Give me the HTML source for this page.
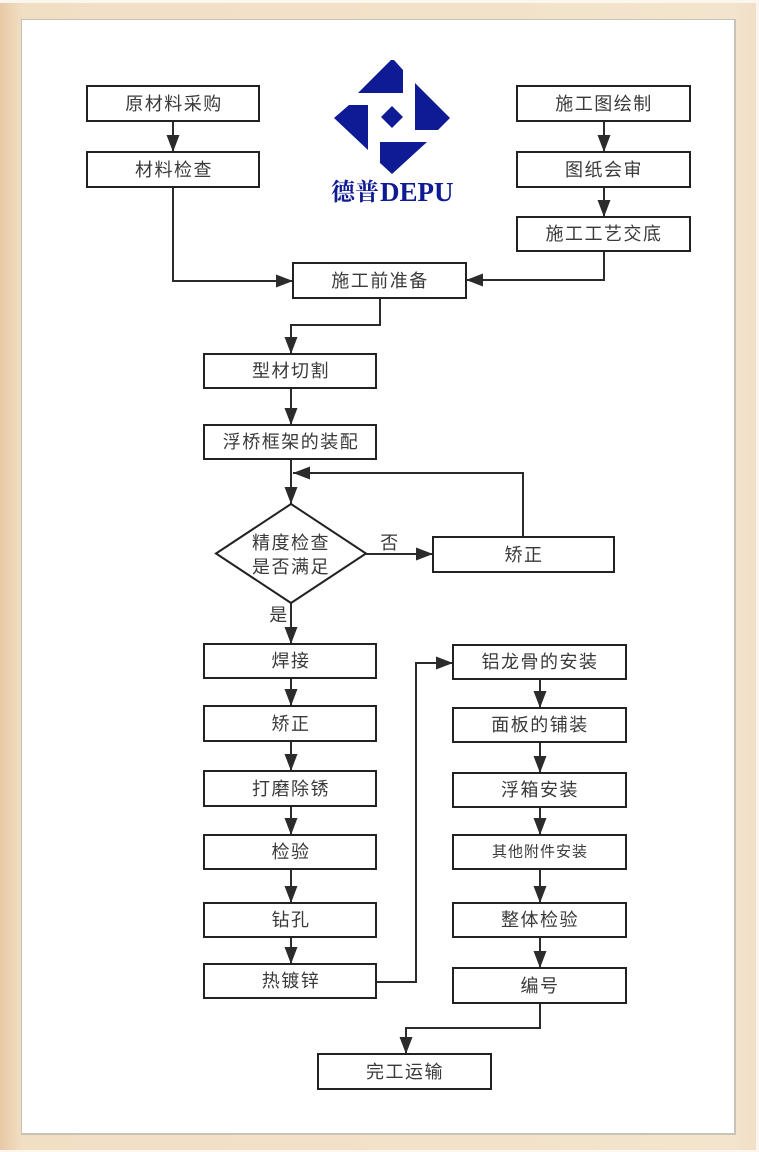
<!DOCTYPE html>
<html><head><meta charset="utf-8"><style>
html,body{margin:0;padding:0;background:#f2e3cb;}
body{width:759px;height:1152px;overflow:hidden;}
svg{display:block;}
text{font-family:"Liberation Sans","Noto Sans CJK SC",sans-serif;}
</style></head><body>
<svg width="759" height="1152" viewBox="0 0 759 1152" xmlns="http://www.w3.org/2000/svg">
<defs>
<linearGradient id="lg" x1="0" x2="1" y1="0" y2="0">
<stop offset="0" stop-color="#e8c9a6"/><stop offset="0.03" stop-color="#f1dfc4"/><stop offset="0.97" stop-color="#f3e4cd"/><stop offset="1" stop-color="#f1dfc6"/>
</linearGradient>
<marker id="ah" markerWidth="17" markerHeight="13" refX="17" refY="6.5" orient="auto" markerUnits="userSpaceOnUse">
<path d="M0,0 L17,6.5 L0,13 Z" fill="#2b2b2b"/>
</marker>
</defs>
<rect x="0" y="0" width="759" height="1152" fill="#fbf6ee"/>
<rect x="0" y="3" width="756" height="1147" fill="url(#lg)"/>
<rect x="21" y="19" width="715" height="1116" fill="#c9c2b6"/>
<rect x="22" y="20" width="712" height="1113" fill="#ffffff"/>

<!-- logo -->
<g fill="#0f1b94">
<polygon points="358,93 391,60 394,60 403,70 403,93"/>
<polygon points="415,83 450,118 438,130 415,130"/>
<polygon points="334,118 349,105 368,105 368,150"/>
<polygon points="380,142 427,142 392,174 380,163"/>
<polygon points="392,106 403,117 392,128 381,117"/>
</g>
<text x="331" y="200" font-size="24" font-weight="bold" fill="#0f1b94" style='font-family:"Noto Serif CJK SC","Liberation Serif",serif'>德普</text>
<text x="380" y="201" font-size="27" font-weight="bold" fill="#0f1b94" style='font-family:"Liberation Serif",serif'>DEPU</text>

<!-- connectors -->
<g stroke="#2b2b2b" stroke-width="2" fill="none" marker-end="url(#ah)">
<line x1="173" y1="121" x2="173" y2="152"/>
<polyline points="173,187 173,281 293,281"/>
<line x1="604" y1="121" x2="604" y2="152"/>
<line x1="604" y1="187" x2="604" y2="217"/>
<polyline points="604,251 604,280 466,280"/>
<polyline points="380,298 380,325 291,325 291,354"/>
<line x1="291" y1="388" x2="291" y2="425"/>
<line x1="291" y1="459" x2="291" y2="504"/>
<polyline points="523,537 523,473 293,473"/>
<line x1="366" y1="554" x2="433" y2="554"/>
<line x1="291" y1="603" x2="291" y2="644"/>
<line x1="291" y1="678" x2="291" y2="706"/>
<line x1="291" y1="741" x2="291" y2="771"/>
<line x1="291" y1="806" x2="291" y2="835"/>
<line x1="291" y1="869" x2="291" y2="903"/>
<line x1="291" y1="937" x2="291" y2="964"/>
<polyline points="376,982 416,982 416,663 453,663"/>
<line x1="540" y1="679" x2="540" y2="708"/>
<line x1="540" y1="742" x2="540" y2="773"/>
<line x1="540" y1="807" x2="540" y2="835"/>
<line x1="540" y1="869" x2="540" y2="903"/>
<line x1="540" y1="937" x2="540" y2="968"/>
<polyline points="540,1003 540,1028 406,1028 406,1054"/>
</g>

<!-- boxes -->
<g fill="#ffffff" stroke="#222" stroke-width="2">
<rect x="87" y="86" width="172" height="35"/>
<rect x="87" y="152" width="172" height="35"/>
<rect x="517" y="86" width="173" height="35"/>
<rect x="517" y="152" width="173" height="35"/>
<rect x="517" y="217" width="173" height="34"/>
<rect x="293" y="263" width="173" height="35"/>
<rect x="204" y="354" width="172" height="34"/>
<rect x="204" y="425" width="172" height="34"/>
<polygon points="216,553.5 291,504 366,553.5 291,603"/>
<rect x="433" y="537" width="181" height="35"/>
<rect x="204" y="644" width="172" height="34"/>
<rect x="204" y="706" width="172" height="35"/>
<rect x="204" y="771" width="172" height="35"/>
<rect x="204" y="835" width="172" height="34"/>
<rect x="204" y="903" width="172" height="34"/>
<rect x="204" y="964" width="172" height="34"/>
<rect x="453" y="645" width="173" height="34"/>
<rect x="453" y="708" width="173" height="34"/>
<rect x="453" y="773" width="173" height="34"/>
<rect x="453" y="835" width="173" height="34"/>
<rect x="453" y="903" width="173" height="34"/>
<rect x="453" y="968" width="173" height="35"/>
<rect x="318" y="1054" width="173" height="35"/>
</g>

<!-- labels -->
<g fill="#3a3a3a" font-size="18" text-anchor="middle" dominant-baseline="central" letter-spacing="1.5">
<text x="174" y="104">原材料采购</text>
<text x="174" y="170">材料检查</text>
<text x="604" y="104">施工图绘制</text>
<text x="604" y="170">图纸会审</text>
<text x="604" y="234">施工工艺交底</text>
<text x="380" y="281">施工前准备</text>
<text x="291" y="371">型材切割</text>
<text x="291" y="442">浮桥框架的装配</text>
<text x="291" y="543">精度检查</text>
<text x="291" y="567">是否满足</text>
<text x="390" y="543">否</text>
<text x="279" y="615">是</text>
<text x="524" y="555">矫正</text>
<text x="291" y="661">焊接</text>
<text x="291" y="724">矫正</text>
<text x="291" y="789">打磨除锈</text>
<text x="291" y="852">检验</text>
<text x="291" y="920">钻孔</text>
<text x="291" y="981">热镀锌</text>
<text x="540" y="662">铝龙骨的安装</text>
<text x="540" y="725">面板的铺装</text>
<text x="540" y="790">浮箱安装</text>
<text x="540" y="852" font-size="15" letter-spacing="1">其他附件安装</text>
<text x="540" y="920">整体检验</text>
<text x="540" y="986">编号</text>
<text x="405" y="1072">完工运输</text>
</g>
</svg>
</body></html>
